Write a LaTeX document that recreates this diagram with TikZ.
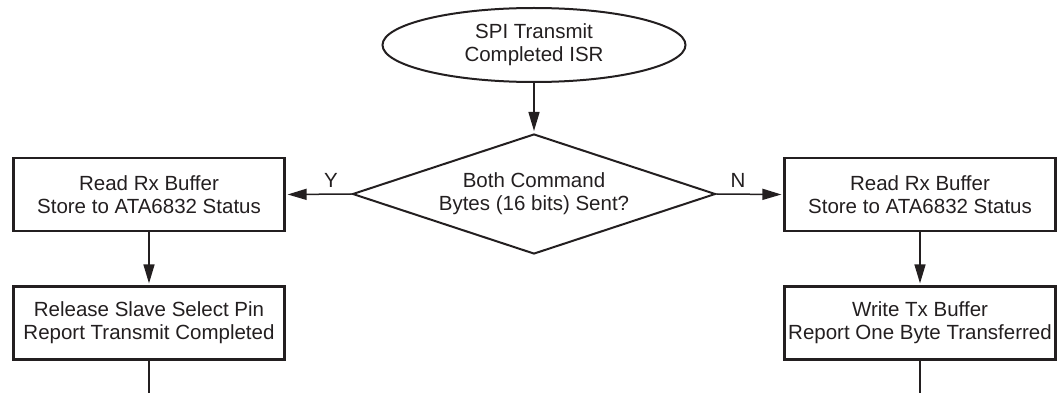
\documentclass[tikz,border=0pt]{standalone}
\usepackage{fontspec}
\setmainfont{Liberation Sans}
\usetikzlibrary{shapes.geometric,arrows.meta}
\definecolor{txt}{HTML}{231F20}
\begin{document}
\begin{tikzpicture}[x=1pt,y=-1pt,
  every node/.style={font=\fontsize{20.5}{23}\selectfont, text=txt, align=center},
  procbox/.style={draw=txt, line width=2.2pt, rectangle, minimum width=271pt, minimum height=73pt, inner sep=0pt},
  termbox/.style={draw=txt, line width=2pt, ellipse, minimum width=303pt, minimum height=74pt, inner sep=0pt},
  decbox/.style={draw=txt, line width=2pt, diamond, aspect=3, minimum width=363pt, minimum height=120pt, inner sep=0pt},
  conn/.style={draw=txt, line width=1.5pt, -{Triangle[length=19pt,width=11pt]}, shorten >=2pt},
  plainconn/.style={draw=txt, line width=1.5pt},
  lbl/.style={inner sep=0pt}
]
\useasboundingbox (0,0) rectangle (1064,393);
\node[termbox] (start) at (534,45) {SPI Transmit\\Completed ISR};
\node[decbox] (dec) at (534,194) {Both Command\\Bytes (16 bits) Sent?};
\node[procbox] (l1) at (149,194.5) {Read Rx Buffer\\Store to ATA6832 Status};
\node[procbox] (l2) at (149,323) {Release Slave Select Pin\\Report Transmit Completed};
\node[procbox] (r1) at (920,194.5) {Read Rx Buffer\\Store to ATA6832 Status};
\node[procbox] (r2) at (920,323) {Write Tx Buffer\\Report One Byte Transferred};
\coordinate (lend) at (149,393);
\coordinate (rend) at (920,393);
\node[lbl] (ylab) at (331,180) {Y};
\node[lbl] (nlab) at (738,180) {N};
\draw[conn] (start) -- (dec);
\draw[conn] (dec.west) -- (l1.east);
\draw[conn] (dec.east) -- (r1.west);
\draw[conn] (l1) -- (l2);
\draw[conn] (r1) -- (r2);
\draw[plainconn] (l2) -- (lend);
\draw[plainconn] (r2) -- (rend);
\end{tikzpicture}
\end{document}
